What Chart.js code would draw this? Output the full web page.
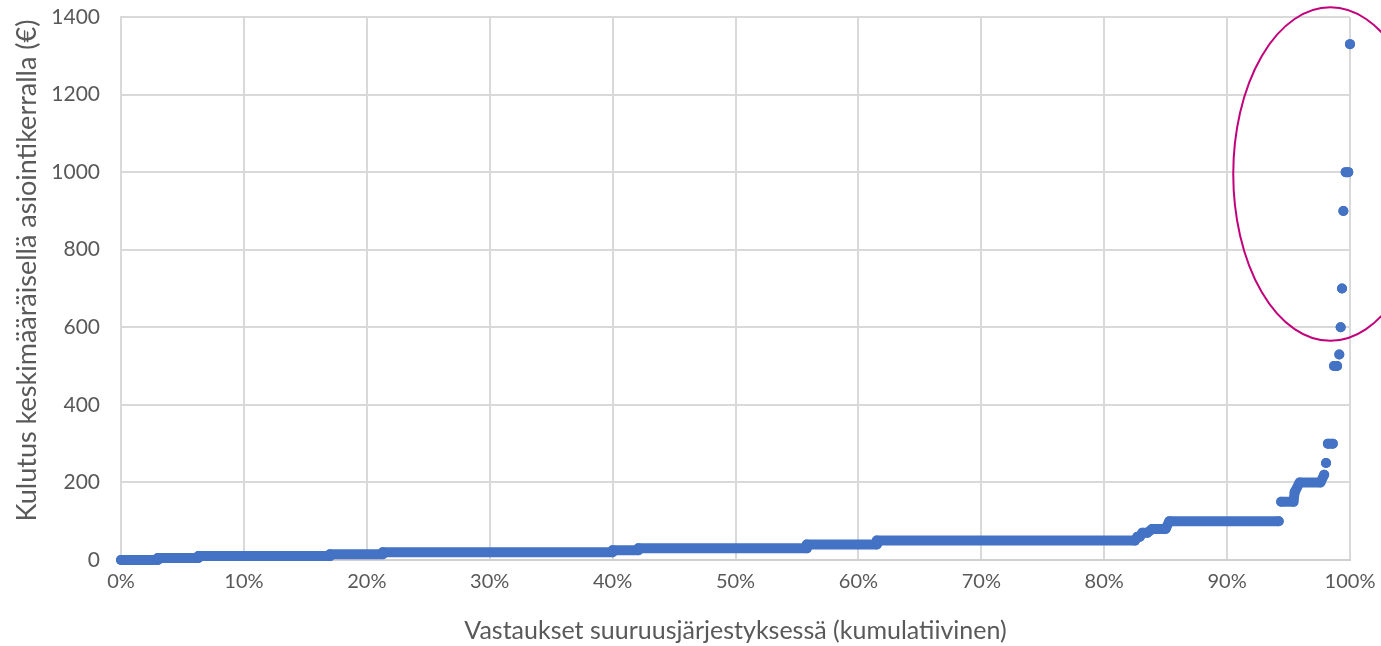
<!DOCTYPE html>
<html>
<head>
<meta charset="utf-8">
<script src="https://cdn.jsdelivr.net/npm/chart.js@4"></script>
<style>
  html, body { margin: 0; padding: 0; background: #ffffff; }
  #wrap { width: 1381px; height: 646px; position: relative; }
</style>
</head>
<body>
<div id="wrap"><canvas id="c" width="1381" height="646"></canvas></div>
<script>
// Sorted answers: each step = a run of answers with the same value
const stepStartPct = [0, 3.0, 6.3, 17.0, 21.3, 40.0, 42.1, 55.8, 61.5, 82.7, 83.1, 83.9, 85.3, 94.4, 95.5, 95.9, 97.9, 98.05, 98.2, 98.7, 99.13, 99.24, 99.35, 99.46, 99.65, 100];
const stepEndPct   = [3.0, 6.3, 17.0, 21.3, 40.0, 42.1, 55.8, 61.5, 82.5, 82.9, 83.5, 85.0, 94.2, 95.4, 95.5, 97.6, 97.9, 98.05, 98.6, 98.95, 99.13, 99.24, 99.35, 99.46, 99.86, 100];
const stepValue    = [0, 5, 10, 15, 20, 25, 30, 40, 50, 60, 70, 80, 100, 150, 175, 200, 220, 250, 300, 500, 530, 600, 700, 900, 1000, 1330];

const xTickValues = [0, 10, 20, 30, 40, 50, 60, 70, 80, 90, 100];
const yTickValues = [0, 200, 400, 600, 800, 1000, 1200, 1400];

const xTitle = 'Vastaukset suuruusjärjestyksessä (kumulatiivinen)';
const yTitle = 'Kulutus keskimääräisellä asiointikerralla (€)';

// highlight ellipse (data units): centre x %, centre y €, radius x %, radius y €
const ellipseCenter = [98.4, 995];
const ellipseRadius = [7.9, 430];

// build line data: consecutive runs joined when the jump is small
const points = [];
for (let i = 0; i < stepValue.length; i++) {
  if (i > 0 && stepValue[i] - stepValue[i - 1] > 25) {
    points.push({ x: stepStartPct[i], y: null });
  }
  points.push({ x: stepStartPct[i], y: stepValue[i] });
  if (stepEndPct[i] !== stepStartPct[i]) points.push({ x: stepEndPct[i], y: stepValue[i] });
}

const FONT = "Lato, 'Open Sans', 'Liberation Sans', sans-serif";
const GRAY_TEXT = '#595959';
const GRID = '#d9d9d9';
const BLUE = '#4472C4';

const ellipsePlugin = {
  id: 'ellipse',
  afterDraw(chart) {
    const { ctx, scales: { x, y } } = chart;
    const cx = x.getPixelForValue(ellipseCenter[0]);
    const cy = y.getPixelForValue(ellipseCenter[1]);
    const rx = Math.abs(x.getPixelForValue(ellipseCenter[0] + ellipseRadius[0]) - cx);
    const ry = Math.abs(y.getPixelForValue(ellipseCenter[1] + ellipseRadius[1]) - cy);
    ctx.save();
    ctx.beginPath();
    ctx.ellipse(cx, cy, rx, ry, 0, 0, Math.PI * 2);
    ctx.strokeStyle = '#C2007B';
    ctx.lineWidth = 2;
    ctx.stroke();
    ctx.restore();
  }
};

// y-axis title, placed like the original (slightly above the plot centre)
const yTitlePlugin = {
  id: 'yTitle',
  afterDraw(chart) {
    const { ctx, chartArea } = chart;
    ctx.save();
    ctx.translate(27, (chartArea.top + chartArea.bottom) / 2 - 18);
    ctx.rotate(-Math.PI / 2);
    ctx.font = "27px " + FONT;
    ctx.fillStyle = GRAY_TEXT;
    ctx.textAlign = 'center';
    ctx.textBaseline = 'middle';
    ctx.fillText(yTitle, 0, 0);
    ctx.restore();
  }
};

new Chart(document.getElementById('c'), {
  type: 'scatter',
  data: {
    datasets: [{
      data: points,
      showLine: true,
      spanGaps: false,
      borderColor: BLUE,
      backgroundColor: BLUE,
      borderWidth: 10,
      borderCapStyle: 'round',
      borderJoinStyle: 'round',
      pointRadius: 5,
      pointBorderWidth: 0,
      pointBackgroundColor: BLUE,
      clip: false
    }]
  },
  options: {
    responsive: false,
    animation: false,
    devicePixelRatio: 1,
    layout: { autoPadding: false, padding: { top: 17, right: 31, left: 0, bottom: 0 } },
    plugins: { legend: { display: false }, tooltip: { enabled: false } },
    scales: {
      x: {
        type: 'linear', min: 0, max: 100,
        afterBuildTicks(axis) { axis.ticks = xTickValues.map(v => ({ value: v })); },
        afterFit(axis) { axis.height = 86; axis.paddingLeft = 0; axis.paddingRight = 0; },
        grid: { color: GRID, lineWidth: 2, drawTicks: false },
        border: { color: '#d0d0d0', width: 2 },
        ticks: { color: GRAY_TEXT, font: { family: FONT, size: 20 }, padding: 10,
                 callback: v => v + '%', maxRotation: 0 },
        title: { display: true, text: xTitle, color: GRAY_TEXT,
                 font: { family: FONT, size: 25 }, padding: { top: 0, bottom: 0 } }
      },
      y: {
        type: 'linear', min: 0, max: 1400,
        afterBuildTicks(axis) { axis.ticks = yTickValues.map(v => ({ value: v })); },
        afterFit(axis) { axis.width = 121; axis.paddingTop = 0; axis.paddingBottom = 0; },
        grid: { color: GRID, lineWidth: 2, drawTicks: false },
        border: { color: GRID, width: 2 },
        ticks: { color: GRAY_TEXT, font: { family: FONT, size: 21 }, padding: 21,
                 callback: v => String(v) },
        title: { display: false, text: yTitle }
      }
    }
  },
  plugins: [ellipsePlugin, yTitlePlugin]
});
</script>
</body>
</html>
